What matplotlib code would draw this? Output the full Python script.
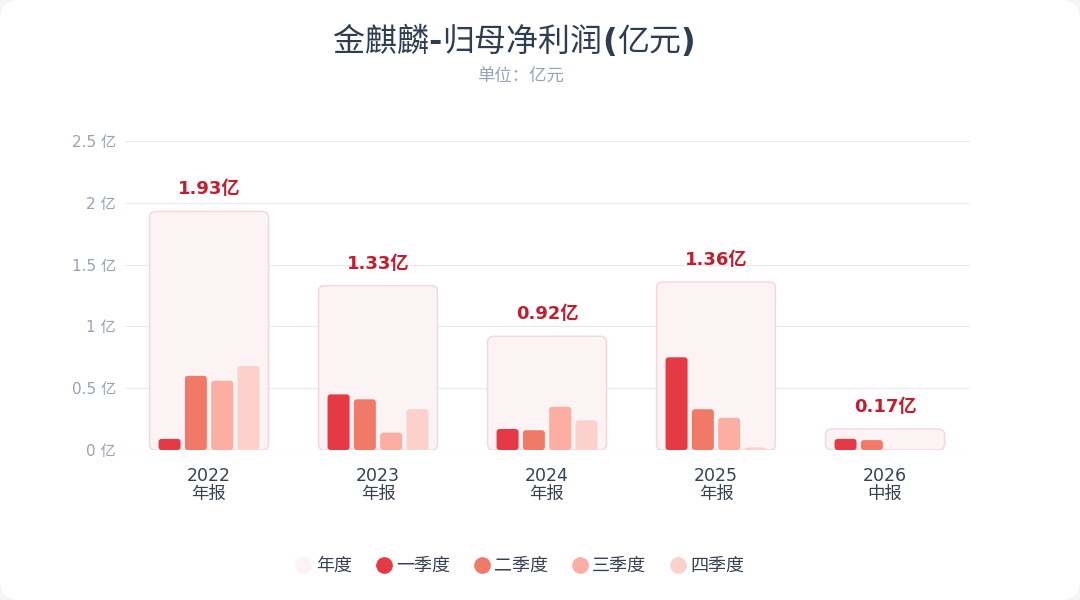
import matplotlib
matplotlib.use("Agg")
import matplotlib.pyplot as plt
from matplotlib.patches import FancyBboxPatch
from matplotlib.lines import Line2D
import numpy as np

plt.rcParams['font.family'] = ['DejaVu Sans', 'Noto Sans CJK SC']

title_parts = [("金麒麟", "normal"), ("-", "bold"), ("归母净利润", "normal"),
               ("(", "bold"), ("亿元", "normal"), (")", "bold")]
subtitle = "单位：亿元"
years = ["2022", "2023", "2024", "2025", "2026"]
periods = ["年报", "年报", "年报", "年报", "中报"]
annual = [1.93, 1.33, 0.92, 1.36, 0.17]
annual_labels = ["1.93亿", "1.33亿", "0.92亿", "1.36亿", "0.17亿"]
q1 = [0.09, 0.45, 0.17, 0.75, 0.09]
q2 = [0.60, 0.41, 0.16, 0.33, 0.08]
q3 = [0.56, 0.14, 0.35, 0.26, 0.0]
q4 = [0.68, 0.33, 0.24, 0.02, 0.0]
series_names = ["一季度", "二季度", "三季度", "四季度"]
yticks = [0, 0.5, 1, 1.5, 2, 2.5]
ytick_labels = ["0 亿", "0.5 亿", "1 亿", "1.5 亿", "2 亿", "2.5 亿"]

colors = ["#e63946", "#f07a67", "#fcaea3", "#fdd1cb"]
annual_face = "#fbf3f4"
annual_edge = "#f6d5db"
label_color = "#c41e2e"
dark = "#364152"
grey = "#97a3b6"

W, H = 1080, 600
fig = plt.figure(figsize=(W / 100, H / 100), dpi=100)
fig.patch.set_facecolor("#f4f5f7")
card = FancyBboxPatch((0, 0), 1, 1, boxstyle="round,pad=0,rounding_size=0.018",
                      transform=fig.transFigure, facecolor="white", edgecolor="none",
                      mutation_aspect=W / H, zorder=-10)
fig.patches.append(card)

ax_l, ax_r = 124.5 / W, 969.5 / W
ax_b, ax_t = 1 - 450 / H, 1 - 141 / H
ax = fig.add_axes([ax_l, ax_b, ax_r - ax_l, ax_t - ax_b])
ax.set_zorder(5)
ax.set_facecolor("none")
ax.set_xlim(0, len(years))
ax.set_ylim(0, 2.5)

px_x = (969.5 - 124.5) / len(years)
px_y = (450 - 141) / 2.5
aspect = px_x / px_y

x = np.arange(len(years)) + 0.5

# annual background boxes
box_w = 0.704
ab = ax.bar(x, annual, width=box_w, color="none")
for p in ab:
    bx, by, bw, bh = p.get_x(), p.get_y(), p.get_width(), p.get_height()
    p.remove()
    fp = FancyBboxPatch((bx, by), bw, bh,
                        boxstyle="round,pad=0,rounding_size=%f" % (6 / px_x),
                        mutation_aspect=aspect, facecolor=annual_face,
                        edgecolor=annual_edge, linewidth=1.0, zorder=1)
    ax.add_patch(fp)

for xi, v, lab in zip(x, annual, annual_labels):
    ax.text(xi, v + 22 / px_y, lab, ha="center", va="center", fontsize=13,
            fontweight="bold", color=label_color, zorder=5)

bar_w = 22 / px_x
step = 26.3 / px_x
offsets = [-1.5 * step, -0.5 * step, 0.5 * step, 1.5 * step]
for vals, off, c in zip([q1, q2, q3, q4], offsets, colors):
    bars = ax.bar(x + off, vals, width=bar_w, color="none")
    for p, v in zip(bars, vals):
        bx, by, bw, bh = p.get_x(), p.get_y(), p.get_width(), p.get_height()
        p.remove()
        if v <= 0:
            continue
        fp = FancyBboxPatch((bx, by), bw, bh,
                            boxstyle="round,pad=0,rounding_size=%f" % (3 / px_x),
                            mutation_aspect=aspect, facecolor=c,
                            edgecolor="none", zorder=3)
        ax.add_patch(fp)

ax.set_yticks(yticks)
ax.set_yticklabels(ytick_labels, fontsize=11, color=grey)
ax.yaxis.grid(True, color="#e9e9ef", linewidth=0.8, zorder=0)
ax.set_axisbelow(True)
ax.set_xticks(x)
ax.set_xticklabels([f"{y}\n{p}" for y, p in zip(years, periods)], fontsize=12.5,
                   color=dark, linespacing=1.0)
ax.tick_params(axis="both", length=0)
ax.tick_params(axis="x", pad=12)
ax.tick_params(axis="y", pad=6)
for s in ax.spines.values():
    s.set_visible(False)

# title built from pieces with different weights
renderer = fig.canvas.get_renderer()
title_size = 23
pieces = []
for txt, wt in title_parts:
    t = fig.text(0, 1 - 42 / H, txt, ha="left", va="center", fontsize=title_size,
                 color="#2f3d52", fontweight=wt)
    pieces.append(t)
widths = [t.get_window_extent(renderer).width for t in pieces]
total = sum(widths)
cur = 514 - total / 2
for t, w in zip(pieces, widths):
    t.set_x(cur / W)
    cur += w

fig.text(520 / W, 1 - 77 / H, subtitle, ha="center", va="center",
         fontsize=12.5, color=grey)

handles = [Line2D([], [], marker="o", linestyle="none", markersize=11,
                  markerfacecolor=annual_face, markeredgecolor=annual_face)]
for c in colors:
    handles.append(Line2D([], [], marker="o", linestyle="none", markersize=11,
                          markerfacecolor=c, markeredgecolor=c))
fig.legend(handles, ["年度"] + series_names, loc="center", ncol=5,
           bbox_to_anchor=(518.5 / W, 1 - 566 / H), frameon=False, fontsize=13,
           labelcolor=dark, handletextpad=0.1, columnspacing=1.14, handlelength=1.2)

fig.savefig("out.png", dpi=100, facecolor=fig.get_facecolor())
